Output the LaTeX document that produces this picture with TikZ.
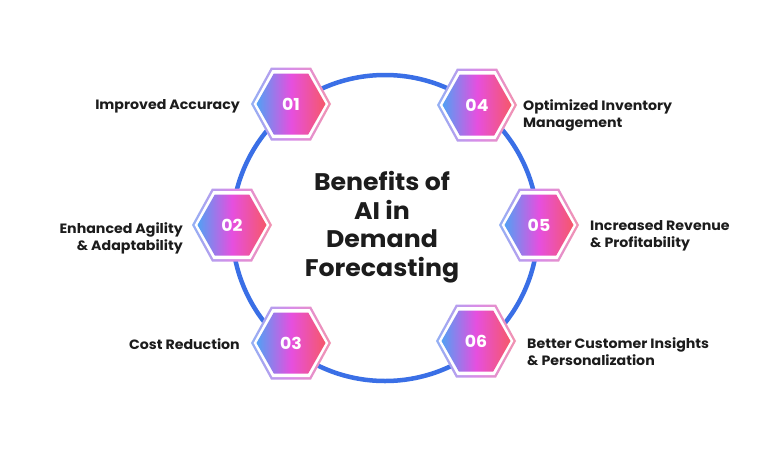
\documentclass[tikz,border=0pt]{standalone}
\usepackage{fontspec}
\setmainfont{Poppins}[FakeStretch=1.05]
\definecolor{ringblue}{HTML}{3A6FE6}
\definecolor{gblue}{HTML}{52A0F4}
\definecolor{gmag}{HTML}{E64FDF}
\definecolor{gred}{HTML}{F65869}
\definecolor{oblue}{HTML}{93B0F4}
\definecolor{omag}{HTML}{D98CE8}
\definecolor{ored}{HTML}{F293B0}
\definecolor{txt}{HTML}{1C1C1C}
\tikzset{
  hexbadge/.pic={
    \shade[left color=oblue, right color=ored, middle color=omag]
      (-40,0) -- (-20,-36.5) -- (20,-36.5) -- (40,0) -- (20,36.5) -- (-20,36.5) -- cycle;
    \fill[white]
      (-37.3,0) -- (-18.6,-34) -- (18.6,-34) -- (37.3,0) -- (18.6,34) -- (-18.6,34) -- cycle;
    \shade[left color=gblue, right color=gred, middle color=gmag]
      (-34.5,0) -- (-17.2,-30.5) -- (17.2,-30.5) -- (34.5,0) -- (17.2,30.5) -- (-17.2,30.5) -- cycle;
  },
  numtext/.style={text=white, font=\fontsize{16.5}{16.5}\selectfont\bfseries, inner sep=0pt},
  labtext/.style={text=txt, font=\fontsize{13.5}{17}\selectfont\bfseries, inner sep=0pt},
  titletext/.style={text=txt, font=\fontsize{24}{28.5}\selectfont\bfseries, align=center, inner sep=0pt},
}
\begin{document}
\begin{tikzpicture}[x=1pt, y=-1pt]
\useasboundingbox (0,0) rectangle (770,455);
\fill[white] (0,0) rectangle (770,455);
\coordinate (c) at (385,228);
\draw[ringblue, line width=4.5pt] (c) circle[radius=153pt];
\node[titletext] (title) at (382,227) {Benefits of\\AI in\\Demand\\Forecasting};
% hexagons
\pic (h1) at (291,104) {hexbadge};
\pic (h2) at (232,225) {hexbadge};
\pic (h3) at (291,343) {hexbadge};
\pic (h4) at (477,105) {hexbadge};
\pic (h5) at (539,225) {hexbadge};
\pic (h6) at (476,341) {hexbadge};
\node[numtext] (n1) at (291,104) {01};
\node[numtext] (n2) at (232,225) {02};
\node[numtext] (n3) at (291,343) {03};
\node[numtext] (n4) at (477,105) {04};
\node[numtext] (n5) at (539,225) {05};
\node[numtext] (n6) at (476,341) {06};
% labels
\node[labtext, anchor=east] (l1) at (240,106) {Improved Accuracy};
\node[labtext, anchor=east, align=right] (l2) at (183,238.5) {Enhanced Agility\\\& Adaptability};
\node[labtext, anchor=east] (l3) at (240,344) {Cost Reduction};
\node[labtext, anchor=west, align=left] (l4) at (523,115) {Optimized Inventory\\Management};
\node[labtext, anchor=west, align=left] (l5) at (590,235.5) {Increased Revenue\\\& Profitability};
\node[labtext, anchor=west, align=left] (l6) at (527,351.5) {Better Customer Insights\\\& Personalization};
\end{tikzpicture}
\end{document}
